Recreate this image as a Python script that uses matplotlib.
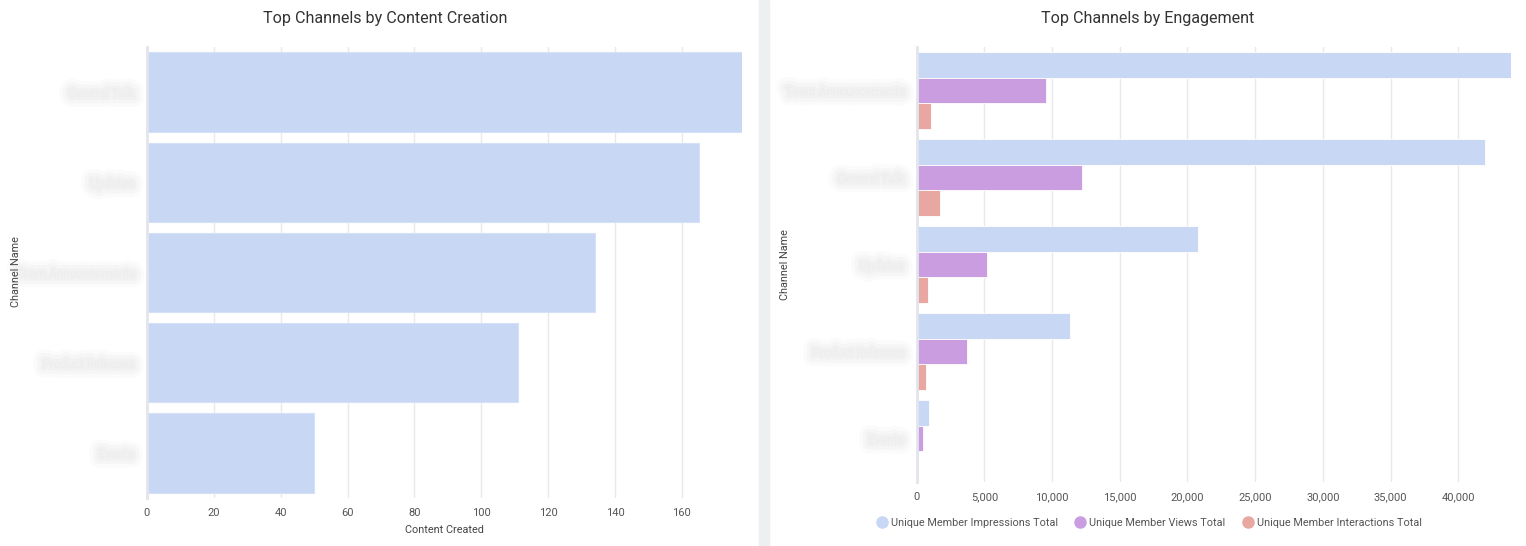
import matplotlib
matplotlib.use('Agg')
import matplotlib.pyplot as plt
import matplotlib.patheffects as pe
from matplotlib.lines import Line2D
from matplotlib.patches import Rectangle
import numpy as np

plt.rcParams['font.family'] = ['Roboto', 'DejaVu Sans']

# left panel: content created per channel (names are blurred in the source)
content_channels = ['General Talk', 'Updates', 'Team Announcements', 'Product Releases', 'Events']
content_created = [178, 165, 134, 111, 50]

# right panel: engagement per channel
engagement_channels = ['Team Announcements', 'General Talk', 'Updates', 'Product Releases', 'Events']
impressions = [43900, 42000, 20800, 11350, 900]
views = [9550, 12200, 5200, 3700, 450]
interactions = [1030, 1700, 800, 700, 30]

series_names = ['Unique Member Impressions Total', 'Unique Member Views Total',
                'Unique Member Interactions Total']
series_colors = ['#c8d7f3', '#c99de0', '#e8a8a1']

W, H = 1526, 546
fig = plt.figure(figsize=(W / 100, H / 100), dpi=100)

# grey divider between the two cards
fig.patches.append(Rectangle((759 / W, 0), 10 / W, 1, transform=fig.transFigure,
                             color='#eeeff1', zorder=0))

text_col = '#555555'
# fake blur for the hidden channel names
blur = [pe.withStroke(linewidth=14, foreground='#fbfbfb'),
        pe.withStroke(linewidth=9, foreground='#f6f6f6'),
        pe.withStroke(linewidth=4, foreground='#f1f1f1')]


def style_axes(ax):
    for s in ['top', 'right', 'bottom']:
        ax.spines[s].set_visible(False)
    ax.spines['left'].set_color('#e2e5ec')
    ax.spines['left'].set_linewidth(2)
    ax.grid(axis='x', color='#e9e9e9', linewidth=1)
    ax.set_axisbelow(True)
    ax.tick_params(axis='x', length=0, pad=7, labelsize=8, labelcolor=text_col)
    ax.tick_params(axis='y', length=0, pad=10, labelsize=8.5, labelcolor='#ededed')
    for lab in ax.get_yticklabels():
        lab.set_path_effects(blur)


# ---- left chart
ax1 = fig.add_axes([147 / W, 48 / H, 595 / W, 451 / H])
y1 = np.arange(len(content_channels))
ax1.barh(y1, content_created, height=0.88, color='#c8d7f3', edgecolor='#d6e1f6', linewidth=0.8)
ax1.set_ylim(len(content_channels) - 0.5, -0.5)
ax1.set_xlim(0, max(content_created))
ax1.set_xticks(range(0, 161, 20))
ax1.set_yticks(y1)
ax1.set_yticklabels(content_channels)
style_axes(ax1)
ax1.set_xlabel('Content Created', fontsize=7.8, color='#444444', labelpad=5)
fig.text(385 / W, 1 - 19 / H, 'Top Channels by Content Creation', ha='center', va='center',
         fontsize=11.6, color='#333333')
fig.text(16 / W, 1 - 272 / H, 'Channel Name', rotation=90, ha='center', va='center',
         fontsize=7.8, color='#444444')

# ---- right chart
ax2 = fig.add_axes([916.7 / W, 64 / H, 594.3 / W, 435 / H])
y2 = np.arange(len(engagement_channels))
h = 0.297
for k, vals in enumerate([impressions, views, interactions]):
    ax2.barh(y2 + (k - 1) * h, vals, height=h, color=series_colors[k],
             edgecolor='white', linewidth=0.6)
ax2.set_ylim(len(engagement_channels) - 0.5, -0.5)
ax2.set_xlim(0, max(impressions))
ax2.set_xticks(range(0, 40001, 5000))
ax2.set_xticklabels([f'{v:,}' for v in range(0, 40001, 5000)])
ax2.set_yticks(y2)
ax2.set_yticklabels(engagement_channels)
style_axes(ax2)
fig.text(1148 / W, 1 - 19 / H, 'Top Channels by Engagement', ha='center', va='center',
         fontsize=11.6, color='#333333')
fig.text(785 / W, 1 - 265 / H, 'Channel Name', rotation=90, ha='center', va='center',
         fontsize=7.8, color='#444444')

handles = [Line2D([0], [0], marker='o', linestyle='', markersize=8,
                  markerfacecolor=c, markeredgecolor=c) for c in series_colors]
fig.legend(handles, series_names, loc='center', bbox_to_anchor=(1149 / W, 1 - 523 / H),
           ncol=3, frameon=False, fontsize=7.8, labelcolor=text_col,
           handletextpad=0.3, columnspacing=1.6, handlelength=1.0)

fig.savefig('out.png', dpi=100, facecolor='white')
